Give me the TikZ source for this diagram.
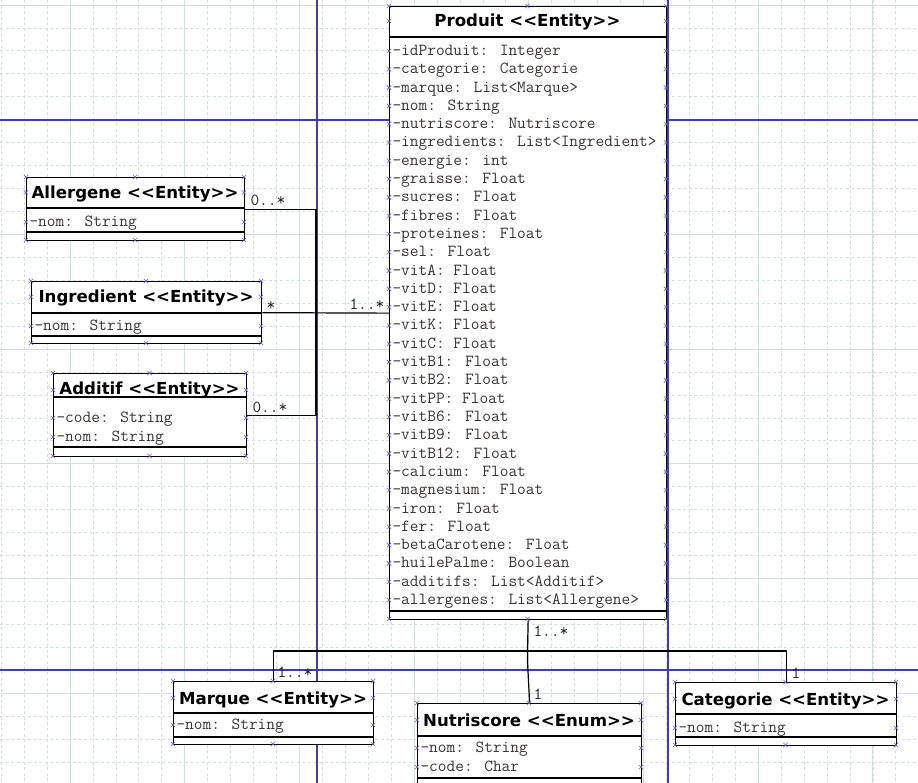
\documentclass[tikz,border=0pt]{standalone}
\usepackage{fontspec}
\newfontfamily\titlefont{DejaVu Sans}

\definecolor{gridcol}{RGB}{210,222,223}
\definecolor{pagecol}{RGB}{62,62,172}
\definecolor{handlecol}{RGB}{96,96,228}
\definecolor{attrcol}{RGB}{58,52,52}

\tikzset{every picture/.style={line width=1pt}}
\tikzset{
  minorgrid/.style={draw=gridcol, line width=0.8pt, dash pattern={on 3pt off 2.6pt}},
  majorgrid/.style={draw=gridcol, line width=0.9pt},
  pageline/.style={draw=pagecol, line width=1.4pt},
  classbox/.style={draw, fill=white, line width=1.3pt, inner sep=0pt, anchor=north west},
  classtitle/.style={font=\titlefont\bfseries\fontsize{16.6}{18}\selectfont, inner sep=0pt, text height=12pt, text depth=0pt},
  attr/.style={font=\ttfamily\fontsize{16.9}{18}\selectfont, text=attrcol, anchor=west, inner sep=0pt, text height=9pt, text depth=0pt},
  mult/.style={attr, text=black!85},
  assoc/.style={draw, line width=1.2pt},
  handle/.style={draw=handlecol, line width=0.6pt}
}
\newcommand{\hmark}[1]{\draw[handle] (#1) ++(-2.2,-2.2) -- ++(4.4,4.4) ++(0,-4.4) -- ++(-4.4,4.4);}

\begin{document}
\begin{tikzpicture}[x=1pt,y=1pt,yscale=-1,xscale=1]
	\useasboundingbox (0,0) rectangle (918,783);
	\fill[white] (0,0) rectangle (918,783);

	%Grid: minor dashed lines
	\foreach \i in {0,...,39} \draw[minorgrid] ({1.2+22.94*\i},0) -- ({1.2+22.94*\i},783);
	\foreach \i in {0,...,34} \draw[minorgrid] (0,{5+22.94*\i}) -- (918,{5+22.94*\i});
	%Grid: major lines
	\foreach \i in {0,...,7} \draw[majorgrid] ({70+114.7*\i},0) -- ({70+114.7*\i},783);
	\foreach \i in {0,...,6} \draw[majorgrid] (0,{5+114.7*\i}) -- (918,{5+114.7*\i});

	%Straight Lines: page limits
	\draw[pageline] (317,0) -- (317,783);
	\draw[pageline] (668,0) -- (668,783);
	\draw[pageline] (0,120) -- (918,120);
	\draw[pageline] (0,670) -- (918,670);

	%Shape: Class Produit
	\node[classbox, minimum width=277pt, minimum height=613pt] (produit) at (389,6) {};
	\draw[line width=1.3pt] (389,37) -- (666,37);
	\draw[line width=1.3pt] (389,611) -- (666,611);
	%Shape: Class Allergene
	\node[classbox, minimum width=218pt, minimum height=63pt] (allergene) at (26,177) {};
	\draw[line width=1.3pt] (26,208) -- (244,208);
	\draw[line width=1.3pt] (26,232) -- (244,232);
	%Shape: Class Ingredient
	\node[classbox, minimum width=230pt, minimum height=62pt] (ingredient) at (31,281) {};
	\draw[line width=1.3pt] (31,313) -- (261,313);
	\draw[line width=1.3pt] (31,336) -- (261,336);
	%Shape: Class Additif
	\node[classbox, minimum width=193pt, minimum height=83pt] (additif) at (53,373) {};
	\draw[line width=1.3pt] (53,397) -- (246,397);
	\draw[line width=1.3pt] (53,447) -- (246,447);
	%Shape: Class Marque
	\node[classbox, minimum width=200pt, minimum height=63pt] (marque) at (173,681) {};
	\draw[line width=1.3pt] (173,713) -- (373,713);
	\draw[line width=1.3pt] (173,737) -- (373,737);
	%Shape: Class Nutriscore
	\node[classbox, minimum width=224pt, minimum height=83pt] (nutriscore) at (417,703) {};
	\draw[line width=1.3pt] (417,736) -- (641,736);
	\draw[line width=1.3pt] (417,778) -- (641,778);
	%Shape: Class Categorie
	\node[classbox, minimum width=221pt, minimum height=63pt] (categorie) at (675,682) {};
	\draw[line width=1.3pt] (675,714) -- (896,714);
	\draw[line width=1.3pt] (675,737) -- (896,737);

	%Straight Lines: associations
	\coordinate (jleft) at (316,312.5);
	\coordinate (jbottom) at (527.5,651);
	\coordinate (jnutri) at (527.5,662);
	\draw[assoc] (allergene.east) -| (jleft);
	\draw[assoc] (additif.east) -| (jleft);
	\draw[assoc] (ingredient.east) -- (produit.west);
	\draw[assoc] (produit.south) -- (jbottom);
	\draw[assoc] (marque.north) |- (jbottom) -| (categorie.north);
	\draw[assoc] (jbottom) -- (jnutri) -- (nutriscore.north);

	%Handles
	\foreach \y in {6,21,51,69.3,87.6,105.9,124.2,142.5,160.8,179.1,197.4,215.7,234,252.3,270.6,288.9,307.2,325.5,343.8,362.1,380.4,398.7,417,435.3,453.6,471.9,490.2,508.5,526.8,545.1,563.4,581.7,600,619} {\hmark{389,\y} \hmark{666,\y}}
	\hmark{527.5,6} \hmark{527.5,619}
	\foreach \y in {177,192.5,222,240} {\hmark{26,\y} \hmark{244,\y}}
	\hmark{135,177} \hmark{135,240}
	\foreach \y in {281,297,326,343} {\hmark{31,\y} \hmark{261,\y}}
	\hmark{146,281} \hmark{146,343}
	\foreach \y in {373,390,418,437,456} {\hmark{53,\y} \hmark{246,\y}}
	\hmark{149.5,373} \hmark{149.5,456}
	\foreach \y in {681,698,725,744} {\hmark{173,\y} \hmark{373,\y}}
	\hmark{273,681} \hmark{273,744}
	\foreach \y in {703,720,748,767} {\hmark{417,\y} \hmark{641,\y}}
	\hmark{529,703}
	\foreach \y in {682,699,728,745} {\hmark{675,\y} \hmark{896,\y}}
	\hmark{785.5,682} \hmark{785.5,745}

	% Text Node: titles
	\draw (527.5,21) node[classtitle] (produit-t) {Produit <{}<Entity>{}>};
	\draw (135,192.5) node[classtitle] (allergene-t) {Allergene <{}<Entity>{}>};
	\draw (146,297) node[classtitle] (ingredient-t) {Ingredient <{}<Entity>{}>};
	\draw (149.5,389) node[classtitle] (additif-t) {Additif <{}<Entity>{}>};
	\draw (273,698) node[classtitle] (marque-t) {Marque <{}<Entity>{}>};
	\draw (529,720) node[classtitle] (nutriscore-t) {Nutriscore <{}<Enum>{}>};
	\draw (785.5,699) node[classtitle] (categorie-t) {Categorie <{}<Entity>{}>};

	% Text Node: attributes of Produit
	\draw (392,51) node[attr] (produit-a1) {-idProduit: Integer};
	\draw (392,69.3) node[attr] (produit-a2) {-categorie: Categorie};
	\draw (392,87.6) node[attr] (produit-a3) {-marque: List<Marque>};
	\draw (392,105.9) node[attr] (produit-a4) {-nom: String};
	\draw (392,124.2) node[attr] (produit-a5) {-nutriscore: Nutriscore};
	\draw (392,142.5) node[attr] (produit-a6) {-ingredients: List<Ingredient>};
	\draw (392,160.8) node[attr] (produit-a7) {-energie: int};
	\draw (392,179.1) node[attr] (produit-a8) {-graisse: Float};
	\draw (392,197.4) node[attr] (produit-a9) {-sucres: Float};
	\draw (392,215.7) node[attr] (produit-a10) {-fibres: Float};
	\draw (392,234) node[attr] (produit-a11) {-proteines: Float};
	\draw (392,252.3) node[attr] (produit-a12) {-sel: Float};
	\draw (392,270.6) node[attr] (produit-a13) {-vitA: Float};
	\draw (392,288.9) node[attr] (produit-a14) {-vitD: Float};
	\draw (392,307.2) node[attr] (produit-a15) {-vitE: Float};
	\draw (392,325.5) node[attr] (produit-a16) {-vitK: Float};
	\draw (392,343.8) node[attr] (produit-a17) {-vitC: Float};
	\draw (392,362.1) node[attr] (produit-a18) {-vitB1: Float};
	\draw (392,380.4) node[attr] (produit-a19) {-vitB2: Float};
	\draw (392,398.7) node[attr] (produit-a20) {-vitPP: Float};
	\draw (392,417) node[attr] (produit-a21) {-vitB6: Float};
	\draw (392,435.3) node[attr] (produit-a22) {-vitB9: Float};
	\draw (392,453.6) node[attr] (produit-a23) {-vitB12: Float};
	\draw (392,471.9) node[attr] (produit-a24) {-calcium: Float};
	\draw (392,490.2) node[attr] (produit-a25) {-magnesium: Float};
	\draw (392,508.5) node[attr] (produit-a26) {-iron: Float};
	\draw (392,526.8) node[attr] (produit-a27) {-fer: Float};
	\draw (392,545.1) node[attr] (produit-a28) {-betaCarotene: Float};
	\draw (392,563.4) node[attr] (produit-a29) {-huilePalme: Boolean};
	\draw (392,581.7) node[attr] (produit-a30) {-additifs: List<Additif>};
	\draw (392,600) node[attr] (produit-a31) {-allergenes: List<Allergene>};

	% Text Node: attributes of the other classes
	\draw (29,222) node[attr] (allergene-a1) {-nom: String};
	\draw (34,326) node[attr] (ingredient-a1) {-nom: String};
	\draw (56,418) node[attr] (additif-a1) {-code: String};
	\draw (56,437) node[attr] (additif-a2) {-nom: String};
	\draw (176,725) node[attr] (marque-a1) {-nom: String};
	\draw (420,748) node[attr] (nutriscore-a1) {-nom: String};
	\draw (420,767) node[attr] (nutriscore-a2) {-code: Char};
	\draw (678,728) node[attr] (categorie-a1) {-nom: String};

	% Text Node: multiplicities
	\draw (250,201) node[mult] (m-allergene) {0..*};
	\draw (266,306) node[mult] (m-ingredient) {*};
	\draw (349,305.5) node[mult] (m-produit-l) {1..*};
	\draw (252,408) node[mult] (m-additif) {0..*};
	\draw (533,632) node[mult] (m-produit-b) {1..*};
	\draw (277,673) node[mult] (m-marque) {1..*};
	\draw (533,695) node[mult] (m-nutriscore) {1};
	\draw (791,674) node[mult] (m-categorie) {1};

\end{tikzpicture}
\end{document}
